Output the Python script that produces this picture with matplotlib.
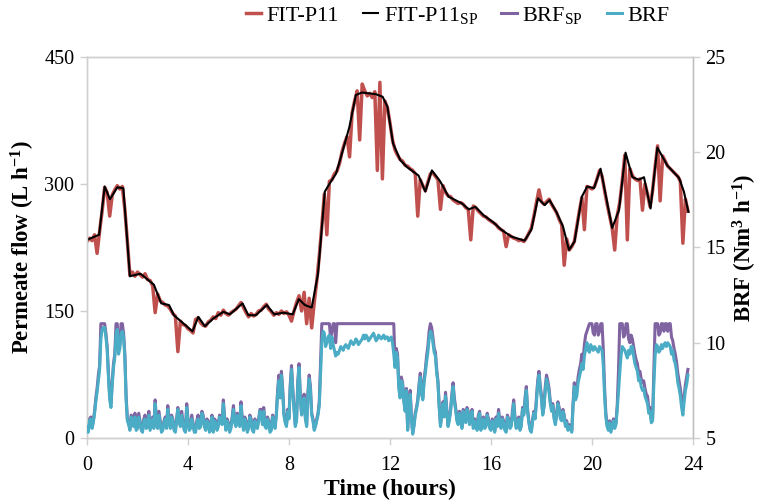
import numpy as np
import matplotlib
matplotlib.use("Agg")
import matplotlib.pyplot as plt

plt.rcParams['font.family'] = ['Liberation Serif', 'DejaVu Serif']
plt.rcParams['mathtext.fontset'] = 'custom'
plt.rcParams['mathtext.rm'] = 'Liberation Serif'
plt.rcParams['mathtext.it'] = 'Liberation Serif:italic'
plt.rcParams['mathtext.bf'] = 'Liberation Serif:bold'

# flow log every 6 min, blower log every 3 min
hours = np.round(np.arange(0, 23.85, 0.1), 2)
hours_brf = np.round(np.arange(0, 23.825, 0.05), 2)

# permeate flow FIT-P11 (L/h), one row per hour
fit_p11 = [
    232, 236, 233, 240, 218, 244, 268, 296, 290, 262,
    287, 293, 298, 294, 297, 270, 232, 192, 196, 191,
    196, 193, 190, 194, 187, 186, 180, 148, 170, 162,
    160, 157, 156, 152, 147, 144, 102, 138, 134, 133,
    129, 127, 124, 140, 142, 136, 133, 132, 137, 139,
    143, 141, 148, 145, 151, 147, 145, 148, 150, 152,
    156, 160, 154, 148, 143, 147, 144, 146, 150, 151,
    155, 158, 152, 149, 145, 148, 146, 150, 147, 149,
    145, 138, 150, 160, 168, 150, 172, 135, 165, 130,
    160, 185, 215, 250, 288, 240, 303, 305, 312, 315,
    324, 338, 348, 356, 332, 384, 398, 410, 352, 418,
    410, 404, 407, 402, 409, 316, 420, 306, 398, 390,
    372, 352, 340, 334, 329, 327, 322, 321, 318, 316,
    312, 262, 305, 298, 292, 302, 312, 313, 309, 305,
    270, 298, 290, 286, 285, 281, 279, 277, 278, 276,
    272, 270, 234, 274, 272, 268, 265, 262, 261, 258,
    256, 254, 252, 248, 246, 244, 226, 240, 238, 236,
    235, 233, 234, 232, 236, 242, 248, 262, 278, 293,
    279, 276, 279, 282, 276, 271, 266, 258, 252, 204,
    235, 222, 226, 232, 250, 268, 284, 246, 297, 296,
    294, 297, 306, 316, 309, 292, 276, 262, 248, 222,
    263, 278, 304, 334, 234, 318, 310, 306, 304, 306,
    269, 300, 288, 273, 292, 320, 345, 280, 333, 327,
    321, 318, 315, 312, 309, 303, 230, 282, 268,
]

# flow set point, changes at these times
sp_hours = [0, 0.48, 0.70, 0.91, 1.2, 1.44, 1.70, 2.12, 2.65, 2.94, 3.25, 3.44,
            4.18, 4.41, 4.67, 5.0, 5.4, 5.66, 6.16, 6.39, 6.69, 7.12, 7.42, 7.78,
            8.15, 8.39, 8.63, 8.90, 9.15, 9.42, 9.6, 9.86, 10.06, 10.39, 10.65,
            10.89, 11.44, 11.71, 11.9, 12.12, 12.41, 12.67, 13.13, 13.40, 13.66,
            13.99, 14.32, 14.85, 15.12, 15.38, 15.71, 16.08, 16.41, 16.8, 17.33,
            17.60, 17.86, 18.13, 18.32, 18.59, 18.85, 19.09, 19.31, 19.6, 19.81,
            20.08, 20.34, 20.80, 21.07, 21.33, 21.60, 21.86, 22.06, 22.32, 22.59,
            22.98, 23.45, 23.64, 23.82]
fit_p11_sp = [234, 240, 297, 282, 296, 295, 191, 194, 181, 159, 157, 145,
              126, 143, 132, 141, 149, 146, 159, 145, 145, 157, 146, 148,
              146, 164, 157, 154, 194, 291, 300, 312, 332, 367, 405,
              408, 406, 403, 391, 348, 328, 320, 310, 291, 316,
              303, 285, 277, 270, 273, 263, 255, 246, 238, 233,
              246, 283, 275, 281, 267, 250, 222, 232, 285, 297,
              295, 318, 248, 269, 337, 308, 305, 308, 271, 343,
              322, 307, 291, 267]

# biogas recirculation flow set point (Nm3/h), one row per hour
brf_sp = [
    5.7, 5.4, 6.0, 6.1, 5.6, 5.9, 6.4, 7.1, 7.6, 8.3, 8.8, 11.0, 11.0, 11.0, 11.0, 10.5, 9.8, 8.4, 7.2, 6.8,
    8.0, 8.9, 9.4, 11.0, 11.0, 9.6, 9.9, 11.0, 11.0, 10.5, 9.4, 7.2, 6.0, 5.8, 5.5, 6.2, 6.1, 5.7, 6.3, 5.5,
    5.6, 6.3, 5.9, 5.5, 5.4, 6.0, 6.2, 5.6, 5.7, 6.4, 5.5, 5.8, 6.1, 5.6, 7.0, 6.0, 5.6, 6.4, 5.9, 5.4,
    5.5, 5.9, 6.1, 5.6, 6.7, 6.0, 5.6, 6.2, 6.0, 5.5, 5.4, 6.0, 6.6, 5.9, 5.7, 6.4, 5.9, 5.5, 5.4, 6.8,
    6.0, 5.5, 5.6, 6.2, 5.8, 5.4, 5.4, 5.9, 6.2, 5.6, 5.7, 6.4, 6.2, 5.7, 5.5, 6.0, 5.9, 5.4, 5.6, 6.2,
    5.4, 6.0, 5.9, 5.5, 5.7, 6.2, 6.1, 5.8, 7.0, 6.1, 5.5, 6.0, 5.8, 5.4, 5.6, 6.1, 6.7, 5.9, 5.7, 6.3,
    6.0, 5.7, 6.9, 6.0, 5.5, 6.1, 5.9, 5.4, 5.6, 6.2, 6.0, 5.5, 5.4, 6.0, 5.7, 5.6, 6.0, 6.5, 6.5, 5.8,
    6.6, 5.7, 5.6, 6.1, 5.9, 5.4, 5.5, 6.2, 5.8, 5.6, 6.3, 7.5, 8.3, 7.3, 8.5, 7.6, 6.3, 5.9, 5.7, 6.5,
    6.1, 7.8, 8.8, 7.6, 6.6, 5.7, 6.0, 8.0, 8.9, 7.2, 6.3, 7.0, 7.3, 6.1, 5.7, 7.4, 8.3, 7.7, 6.3, 6.0,
    5.5, 5.7, 6.0, 6.3, 6.9, 9.0, 11.0, 11.0, 11.0, 11.0, 11.0, 11.0, 11.0, 10.2, 10.6, 11.0, 11.0, 10.0, 11.0, 11.0,
    11.0, 11.0, 11.0, 11.0, 11.0, 11.0, 11.0, 11.0, 11.0, 11.0, 11.0, 11.0, 11.0, 11.0, 11.0, 11.0, 11.0, 11.0, 11.0, 11.0,
    11.0, 11.0, 11.0, 11.0, 11.0, 11.0, 11.0, 11.0, 11.0, 11.0, 11.0, 11.0, 11.0, 11.0, 11.0, 11.0, 11.0, 11.0, 11.0, 11.0,
    11.0, 11.0, 11.0, 11.0, 8.9, 9.7, 9.4, 7.8, 7.2, 8.2, 7.9, 7.0, 6.5, 7.6, 5.5, 6.7, 7.5, 6.1, 5.3, 5.7,
    6.3, 6.6, 7.0, 7.8, 8.4, 7.4, 7.1, 8.1, 8.6, 9.3, 9.8, 10.6, 11.0, 10.8, 10.3, 9.7, 9.5, 8.6, 8.0, 6.7,
    5.7, 6.3, 6.9, 6.2, 7.4, 6.5, 5.7, 6.0, 6.5, 7.3, 7.9, 7.1, 6.6, 6.0, 5.8, 6.4, 6.1, 5.6, 6.5, 6.1,
    5.9, 6.6, 6.4, 5.8, 6.1, 6.5, 5.6, 6.0, 5.9, 5.5, 6.2, 6.4, 5.5, 5.9, 6.1, 5.6, 5.7, 6.3, 6.0, 5.6,
    5.5, 6.0, 5.8, 5.4, 6.1, 5.7, 6.5, 5.9, 5.6, 6.1, 5.9, 5.5, 5.4, 6.2, 6.0, 5.6, 5.7, 6.4, 7.0, 6.1,
    5.6, 5.9, 6.1, 5.5, 5.7, 6.6, 6.3, 7.1, 7.7, 6.5, 5.9, 5.5, 5.4, 6.0, 6.4, 6.1, 7.1, 8.0, 8.5, 7.8,
    7.2, 6.3, 6.7, 7.7, 8.3, 8.0, 7.6, 6.9, 6.6, 6.8, 6.1, 5.8, 6.3, 6.9, 6.6, 6.1, 6.0, 6.5, 6.2, 5.7,
    5.9, 5.5, 5.7, 5.6, 5.4, 6.8, 7.9, 7.2, 7.5, 8.2, 8.6, 8.9, 9.4, 9.1, 9.9, 10.4, 10.6, 10.8, 11.0, 11.0,
    11.0, 10.5, 10.4, 11.0, 11.0, 10.4, 10.6, 11.0, 11.0, 9.6, 7.6, 6.3, 5.7, 5.5, 5.9, 5.4, 5.7, 6.0, 5.6, 5.8,
    6.7, 8.5, 11.0, 11.0, 11.0, 10.3, 10.4, 11.0, 11.0, 10.2, 10.0, 10.4, 10.2, 9.8, 9.4, 9.1, 8.9, 8.4, 8.5, 8.1,
    7.9, 8.0, 7.6, 7.3, 7.2, 6.6, 6.6, 6.0, 6.0, 8.6, 11.0, 11.0, 11.0, 10.4, 10.5, 11.0, 11.0, 10.6, 11.0, 11.0,
    10.6, 11.0, 11.0, 10.3, 10.1, 9.7, 9.4, 9.0, 8.4, 8.0, 7.6, 7.0, 6.5, 7.2, 7.8, 8.2, 8.6,
]

# measured biogas recirculation flow (Nm3/h)
brf = [
    5.6, 5.3, 5.9, 6.0, 5.5, 5.8, 6.3, 6.9, 7.4, 8.0, 8.6, 10.2, 10.7, 10.8, 10.8, 10.3, 9.6, 8.2, 7.0, 6.6,
    7.8, 8.7, 9.2, 10.4, 10.7, 9.4, 9.7, 10.5, 10.6, 10.3, 9.2, 7.0, 5.9, 5.7, 5.4, 6.1, 6.0, 5.6, 6.1, 5.4,
    5.5, 6.1, 5.8, 5.4, 5.3, 5.9, 6.0, 5.5, 5.6, 6.2, 5.4, 5.7, 6.0, 5.5, 6.8, 5.9, 5.5, 6.2, 5.8, 5.3,
    5.4, 5.8, 6.0, 5.5, 6.5, 5.9, 5.5, 6.1, 5.9, 5.4, 5.3, 5.9, 6.5, 5.8, 5.6, 6.2, 5.8, 5.4, 5.3, 6.6,
    5.9, 5.4, 5.5, 6.0, 5.7, 5.3, 5.3, 5.8, 6.0, 5.5, 5.6, 6.3, 6.1, 5.6, 5.4, 5.9, 5.8, 5.3, 5.5, 6.1,
    5.3, 5.9, 5.8, 5.4, 5.6, 6.1, 6.0, 5.7, 6.8, 6.0, 5.4, 5.9, 5.7, 5.3, 5.5, 6.0, 6.5, 5.8, 5.6, 6.2,
    5.9, 5.6, 6.7, 5.9, 5.4, 6.0, 5.8, 5.3, 5.5, 6.1, 5.9, 5.4, 5.3, 5.9, 5.6, 5.5, 5.9, 6.4, 6.3, 5.7,
    6.4, 5.6, 5.5, 6.0, 5.8, 5.3, 5.4, 6.1, 5.7, 5.5, 6.2, 7.3, 8.0, 7.1, 8.3, 7.4, 6.2, 5.8, 5.6, 6.4,
    6.0, 7.6, 8.6, 7.4, 6.5, 5.6, 5.9, 7.8, 8.7, 7.0, 6.2, 6.9, 7.1, 6.0, 5.6, 7.2, 8.1, 7.5, 6.2, 5.9,
    5.4, 5.6, 5.9, 6.2, 6.7, 8.4, 10.0, 10.6, 10.5, 9.8, 10.0, 10.3, 10.4, 9.7, 10.3, 9.9, 9.6, 9.3, 9.5, 9.4,
    9.6, 9.8, 9.7, 9.6, 9.8, 9.9, 9.8, 9.7, 9.9, 10.1, 10.0, 9.9, 10.0, 10.2, 10.1, 9.9, 10.0, 10.1, 10.2, 10.4,
    10.2, 10.4, 10.3, 10.1, 10.2, 10.3, 10.4, 10.5, 10.3, 10.1, 10.2, 10.4, 10.3, 10.2, 10.3, 10.4, 10.2, 10.3, 10.3, 10.1,
    10.2, 10.3, 10.0, 9.4, 8.7, 9.5, 9.2, 7.6, 7.1, 8.0, 7.8, 6.9, 6.4, 7.5, 5.4, 6.6, 7.3, 6.0, 5.2, 5.6,
    6.2, 6.5, 6.9, 7.6, 8.2, 7.3, 7.0, 7.9, 8.4, 9.0, 9.5, 10.2, 10.6, 10.5, 10.0, 9.5, 9.3, 8.4, 7.9, 6.6,
    5.6, 6.2, 6.8, 6.1, 7.2, 6.4, 5.6, 5.9, 6.4, 7.1, 7.7, 6.9, 6.5, 5.9, 5.7, 6.3, 6.0, 5.5, 6.4, 6.0,
    5.8, 6.5, 6.3, 5.7, 6.0, 6.4, 5.5, 5.9, 5.8, 5.4, 6.1, 6.3, 5.4, 5.8, 6.0, 5.5, 5.6, 6.2, 5.9, 5.5,
    5.4, 5.9, 5.7, 5.3, 6.0, 5.6, 6.3, 5.8, 5.5, 6.0, 5.8, 5.4, 5.3, 6.1, 5.9, 5.5, 5.6, 6.2, 6.8, 6.0,
    5.5, 5.8, 6.0, 5.4, 5.6, 6.5, 6.2, 6.9, 7.5, 6.4, 5.8, 5.4, 5.3, 5.9, 6.3, 6.0, 6.9, 7.8, 8.3, 7.6,
    7.0, 6.2, 6.6, 7.5, 8.1, 7.8, 7.4, 6.8, 6.4, 6.7, 6.0, 5.7, 6.2, 6.8, 6.5, 6.0, 5.9, 6.4, 6.1, 5.6,
    5.8, 5.4, 5.6, 5.5, 5.3, 6.6, 7.7, 7.0, 7.2, 7.9, 8.2, 8.5, 8.9, 8.6, 9.3, 9.7, 10.0, 9.6, 9.5, 9.9,
    9.7, 9.6, 9.8, 9.7, 9.6, 9.5, 9.8, 9.7, 9.6, 8.8, 7.2, 6.1, 5.6, 5.4, 5.8, 5.3, 5.6, 5.9, 5.5, 5.7,
    6.5, 7.4, 8.4, 9.3, 9.8, 9.7, 9.6, 9.4, 9.2, 9.6, 9.4, 9.8, 9.8, 9.3, 8.9, 8.7, 8.5, 8.0, 8.1, 7.7,
    7.5, 7.6, 7.2, 7.0, 6.8, 6.3, 6.4, 5.8, 5.9, 7.8, 9.3, 9.9, 9.8, 9.5, 9.6, 9.9, 9.7, 9.9, 10.0, 9.8,
    10.0, 9.9, 9.8, 9.4, 9.6, 9.1, 8.9, 8.5, 7.9, 7.6, 7.2, 6.6, 6.2, 6.9, 7.5, 7.8, 8.3,
]

x_ticks = [0, 4, 8, 12, 16, 20, 24]
flow_ticks = [0, 150, 300, 450]
brf_ticks = [5, 10, 15, 20, 25]

red, purple, cyan = '#c0504d', '#8064a2', '#4bacc6'
frame = '#d0d0d0'

fig = plt.figure(figsize=(7.59, 5.04), dpi=100)
ax = fig.add_axes([0.1146, 0.131, 0.7984, 0.756])
ax2 = ax.twinx()

l1, = ax.plot(hours, fit_p11, color=red, lw=2.5, zorder=2)
l2, = ax.plot(sp_hours, fit_p11_sp, color='black', lw=1.5, zorder=3)
l3, = ax2.plot(hours_brf, brf_sp, color=purple, lw=2.2, zorder=2)
l4, = ax2.plot(hours_brf, brf, color=cyan, lw=2.2, zorder=3)

ax.set_xlim(0, 24)
ax.set_ylim(0, 450)
ax2.set_ylim(5, 25)
ax.set_xticks(x_ticks)
ax.set_yticks(flow_ticks)
ax2.set_yticks(brf_ticks)

for a in (ax, ax2):
    for side in ('left', 'right', 'top', 'bottom'):
        a.spines[side].set_color(frame)
        a.spines[side].set_linewidth(1.0)
    a.tick_params(labelsize=14.5, color=frame, length=5, width=1.0, pad=4)
ax.tick_params(axis='x', pad=8)
ax.spines['bottom'].set_color('#bfbfbf')
ax2.spines['right'].set_color('#bfbfbf')

ax.set_xlabel('Time (hours)', fontsize=17, fontweight='bold', labelpad=3)
ax.set_ylabel(r'Permeate flow (L h$^{\mathbf{-1}}$)', fontsize=16.5,
              fontweight='bold', labelpad=5)
ax2.set_ylabel(r'BRF (Nm$^{\mathbf{3}}$ h$^{\mathbf{-1}}$)', fontsize=16.5,
               fontweight='bold', labelpad=4)

fig.legend([l1, l2, l3, l4],
           ['FIT-P11', r'FIT-P11$_{\mathrm{SP}}$', r'BRF$_{\mathrm{SP}}$', 'BRF'],
           loc='upper center', bbox_to_anchor=(0.603, 1.03), ncol=4,
           frameon=False, fontsize=16, handlelength=0.7, handletextpad=0.25,
           columnspacing=1.05)

fig.savefig('out.png', dpi=100)
